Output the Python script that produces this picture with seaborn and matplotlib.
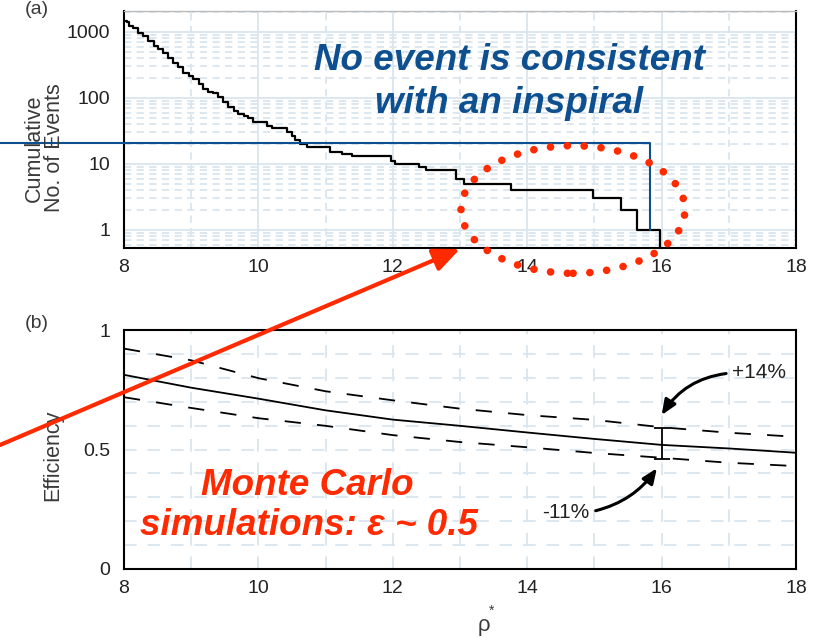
import numpy as np
import matplotlib
matplotlib.use("Agg")
import matplotlib.pyplot as plt
import seaborn as sns
from matplotlib.patches import Ellipse, FancyArrowPatch
from matplotlib.ticker import FixedLocator, MultipleLocator, LogLocator, NullFormatter

# (a) cumulative number of candidate events above each SNR threshold rho*
rho_cum = [8.00, 8.04, 8.08, 8.14, 8.21, 8.29, 8.36, 8.44, 8.51, 8.58,
           8.66, 8.73, 8.81, 8.88, 8.96, 9.03, 9.11, 9.18, 9.25, 9.33,
           9.40, 9.48, 9.55, 9.63, 9.70, 9.78, 9.85, 9.92, 10.13, 10.20,
           10.42, 10.50, 10.54, 10.62, 10.72, 11.07, 11.25, 11.39, 11.97, 12.04,
           12.39, 12.49, 12.94, 13.06, 13.76, 14.98, 15.40, 15.63, 15.98]
n_cum = [1455, 1400, 1220, 1130, 970, 865, 727, 611, 545, 485,
         407, 343, 295, 242, 216, 192, 162, 136, 125, 117,
         104, 86, 72, 63, 57, 54, 50, 44, 38, 35,
         31, 27, 23, 20, 18, 15, 14, 13, 11, 10,
         9, 8, 6, 5, 4, 3, 2, 1, 0]

# (b) Monte Carlo detection efficiency and its systematic band
rho_eff = [8, 9, 10, 11, 12, 13, 14, 15, 16, 17, 18]
eff_mid = [0.814, 0.760, 0.714, 0.665, 0.626, 0.600, 0.572, 0.545, 0.520, 0.505, 0.487]
eff_hi = [0.924, 0.875, 0.800, 0.745, 0.707, 0.672, 0.645, 0.625, 0.594, 0.571, 0.554]
eff_lo = [0.720, 0.675, 0.632, 0.600, 0.561, 0.532, 0.510, 0.486, 0.466, 0.445, 0.431]

x_ticks = [8, 10, 12, 14, 16, 18]
x_tick_labels = ["8", "10", "12", "14", "16", "18"]
cum_ticks = [1, 10, 100, 1000]
cum_tick_labels = ["1", "10", "100", "1000"]
eff_ticks = [0, 0.5, 1]
eff_tick_labels = ["0", "0.5", "1"]

# expected-background box and the error bar quoted on the efficiency
box_rho = 15.83
box_n = 20.6
err_rho = 16
err_up_pct = 14
err_dn_pct = 11

GRID = "#d9e5ef"
BLUE = "#0d4f8f"
RED = "#ff2a00"
INK = "#222222"
LABEL = "#3a3a3a"

sns.set_style("white")
plt.rcParams["font.family"] = ["Liberation Sans", "DejaVu Sans"]

fig = plt.figure(figsize=(8.21, 6.38), dpi=100)
W, H = 821, 638
ax_a = fig.add_axes([124 / W, 1 - 248 / H, 672 / W, 237 / H])
ax_b = fig.add_axes([124 / W, 1 - 568.8 / H, 672 / W, 238.3 / H])

# ---- panel (a): cumulative event counts ----
sns.lineplot(x=rho_cum, y=n_cum, ax=ax_a, color="black", lw=1.6,
             drawstyle="steps-post", zorder=3)
ax_a.set_yscale("log")
ax_a.set_xlim(8, 18)
ax_a.set_ylim(0.533, 2080)
ax_a.xaxis.set_major_locator(FixedLocator(x_ticks))
ax_a.set_xticklabels(x_tick_labels)
ax_a.xaxis.set_minor_locator(MultipleLocator(1))
ax_a.yaxis.set_major_locator(FixedLocator(cum_ticks))
ax_a.set_yticklabels(cum_tick_labels)
ax_a.yaxis.set_minor_locator(LogLocator(base=10, subs=np.arange(2, 10)))
ax_a.yaxis.set_minor_formatter(NullFormatter())
ax_a.grid(which="major", color=GRID, lw=1.3, ls="-")
ax_a.grid(which="minor", color=GRID, lw=1.3, ls=(0, (4, 3)))
ax_a.set_axisbelow(True)
for side in ("left", "bottom", "right"):
    ax_a.spines[side].set_color("black")
    ax_a.spines[side].set_linewidth(1.5)
ax_a.spines["top"].set_color("#bbbbbb")
ax_a.spines["top"].set_linewidth(1.0)

# background expectation box reaching out past the axis
ax_a.plot([6.0, box_rho, box_rho], [box_n, box_n, 1], color=BLUE, lw=1.5,
          clip_on=False, zorder=4)

# ---- panel (b): efficiency ----
sns.lineplot(x=rho_eff, y=eff_mid, ax=ax_b, color="black", lw=1.3)
sns.lineplot(x=rho_eff, y=eff_hi, ax=ax_b, color="black", lw=1.3,
             linestyle=(0, (9, 9)))
sns.lineplot(x=rho_eff, y=eff_lo, ax=ax_b, color="black", lw=1.3,
             linestyle=(0, (9, 9)))
i_err = rho_eff.index(err_rho)
v_err = eff_mid[i_err]
ax_b.errorbar([err_rho], [v_err],
              yerr=[[v_err * err_dn_pct / 100], [v_err * err_up_pct / 100]],
              fmt="none", ecolor="black", elinewidth=1.3, capsize=6, capthick=1.3)
ax_b.set_xlim(8, 18)
ax_b.set_ylim(0, 1)
ax_b.xaxis.set_major_locator(FixedLocator(x_ticks))
ax_b.set_xticklabels(x_tick_labels)
ax_b.xaxis.set_minor_locator(MultipleLocator(1))
ax_b.yaxis.set_major_locator(FixedLocator(eff_ticks))
ax_b.set_yticklabels(eff_tick_labels)
ax_b.yaxis.set_minor_locator(MultipleLocator(0.1))
ax_b.grid(which="both", color=GRID, lw=1.3, ls=(0, (7, 6)))
ax_b.set_axisbelow(True)
for side in ("left", "bottom", "right", "top"):
    ax_b.spines[side].set_color("black")
    ax_b.spines[side].set_linewidth(1.5)

arrow_kw = dict(arrowstyle="-|>,head_length=0.6,head_width=0.25", color="black",
                lw=2.2, shrinkA=2, shrinkB=0)
ax_b.annotate(f"+{err_up_pct}%", xy=(err_rho, 0.645), xytext=(17.05, 0.822),
              ha="left", va="center", fontsize=15, color=INK,
              arrowprops=dict(connectionstyle="arc3,rad=0.25", relpos=(0, 0.5),
                              **arrow_kw))
ax_b.annotate(f"-{err_dn_pct}%", xy=(15.93, 0.422), xytext=(14.93, 0.238),
              ha="right", va="center", fontsize=15, color=INK,
              arrowprops=dict(connectionstyle="arc3,rad=0.2", relpos=(1, 0.5),
                              **arrow_kw))

for ax in (ax_a, ax_b):
    ax.tick_params(which="both", length=0, labelsize=14, labelcolor=INK)
    ax.tick_params(axis="x", pad=8)
    ax.tick_params(axis="y", pad=10)
    ax.set_xlabel("")
    ax.set_ylabel("")

# axis titles and panel tags
fig.text(44 / W, 1 - 148 / H, "Cumulative\nNo. of Events", rotation=90,
         ha="center", va="center", fontsize=15.5, color=LABEL, linespacing=0.95)
fig.text(53 / W, 1 - 455 / H, "Efficiency", rotation=90,
         ha="center", va="center", fontsize=15.5, color=LABEL)
fig.text(484 / W, 1 - 626 / H, "ρ", ha="center", va="center",
         fontsize=16, color=LABEL)
fig.text(492 / W, 1 - 611 / H, "*", ha="center", va="center",
         fontsize=10, color=LABEL)
fig.text(37 / W, 1 - 18 / H, "(a)", ha="center", va="bottom", fontsize=14, color=LABEL)
fig.text(37 / W, 1 - 324 / H, "(b)", ha="center", va="center", fontsize=14, color=LABEL)

# callouts
fig.text(509 / W, 1 - 70 / H, "No event is consistent", ha="center", va="baseline",
         fontsize=26.5, fontweight="bold", fontstyle="italic", color=BLUE)
fig.text(509 / W, 1 - 113 / H, "with an inspiral", ha="center", va="baseline",
         fontsize=26.5, fontweight="bold", fontstyle="italic", color=BLUE)
fig.text(307 / W, 1 - 495 / H, "Monte Carlo", ha="center", va="baseline",
         fontsize=26.5, fontweight="bold", fontstyle="italic", color=RED)
fig.text(309 / W, 1 - 535 / H, "simulations: ε ~ 0.5", ha="center", va="baseline",
         fontsize=26.5, fontweight="bold", fontstyle="italic", color=RED)

fig.add_artist(Ellipse((573 / W, 1 - 209.5 / H), 224 / W, 127.6 / H,
                       transform=fig.transFigure, fill=False, edgecolor=RED,
                       lw=5.5, linestyle=(0, (0.01, 2.2)), capstyle="round",
                       zorder=10))
fig.add_artist(FancyArrowPatch((0, 1 - 445 / H), (460 / W, 1 - 249 / H),
                               transform=fig.transFigure,
                               arrowstyle="-|>,head_length=0.8,head_width=0.35",
                               mutation_scale=20, color=RED, lw=3,
                               shrinkA=0, shrinkB=0, zorder=10))

fig.savefig("out.png", dpi=100)
